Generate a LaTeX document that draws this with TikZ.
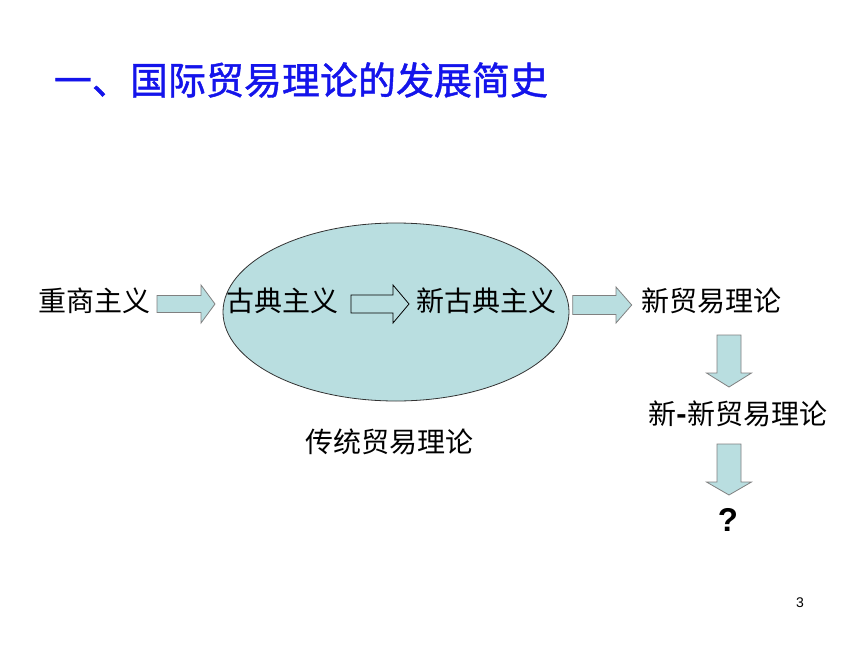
\documentclass[tikz,border=0pt]{standalone}
\usepackage{fontspec}
\setmainfont{Liberation Sans}
\newfontfamily\cjk{Noto Sans CJK SC}
\newfontfamily\cjktitle[FakeBold=1.2]{Noto Sans CJK SC}
\usetikzlibrary{shapes.geometric}
\definecolor{fillc}{RGB}{185,222,224}
\definecolor{titleblue}{RGB}{20,20,235}
\newcommand\harrow[7]{%
  \draw[#7] (#1,{#4-#5}) -- (#2,{#4-#5}) -- (#2,{#4-#6}) -- (#3,#4) -- (#2,{#4+#6}) -- (#2,{#4+#5}) -- (#1,{#4+#5}) -- cycle;}
\newcommand\varrow[7]{%
  \draw[#7] ({#4-#5},#1) -- ({#4-#5},#2) -- ({#4-#6},#2) -- (#4,#3) -- ({#4+#6},#2) -- ({#4+#5},#2) -- ({#4+#5},#1) -- cycle;}
\begin{document}
\begin{tikzpicture}[x=1pt,y=-1pt,
  txt/.style={inner sep=0pt,font=\fontsize{28}{30}\selectfont\cjk},
  ttl/.style={inner sep=0pt,font=\fontsize{38}{40}\selectfont\cjktitle,text=titleblue},
  blockarr/.style={fill=fillc,draw=gray,line width=0.8pt},
  innerarr/.style={fill=fillc,draw=black,line width=0.8pt},
  ellstyle/.style={ellipse,draw=black!80,line width=0.8pt,fill=fillc,inner sep=0pt,minimum width=346pt,minimum height=178pt}]
\useasboundingbox[fill=white] (0,0) rectangle (860,645);
\node[ttl] (title) at (301,80) {一、国际贸易理论的发展简史};
\node[ellstyle] (ell) at (396,312) {};
\node[txt] (merc) at (94,301) {重商主义};
\node[txt] (class) at (282.5,301) {古典主义};
\node[txt] (neo) at (486,301) {新古典主义};
\node[txt] (newt) at (711,301) {新贸易理论};
\node[txt] (newnew) at (738,414) {新\textbf{-}新贸易理论};
\node[inner sep=0pt,font=\fontsize{33}{35}\selectfont\bfseries] (q) at (728,520) {?};
\node[txt] (trad) at (389,442) {传统贸易理论};
\node[inner sep=0pt,font=\fontsize{14}{16}\selectfont] (pg) at (800,603) {3};
\harrow{157}{201}{215}{304}{8.5}{19}{blockarr}
\harrow{351}{393}{409}{304}{9}{19}{innerarr}
\harrow{572.7}{616}{631.7}{305}{9.5}{18}{blockarr}
\varrow{335}{373}{387}{729}{12}{22.5}{blockarr}
\varrow{444}{482}{495}{729}{12}{22.5}{blockarr}
\end{tikzpicture}
\end{document}
